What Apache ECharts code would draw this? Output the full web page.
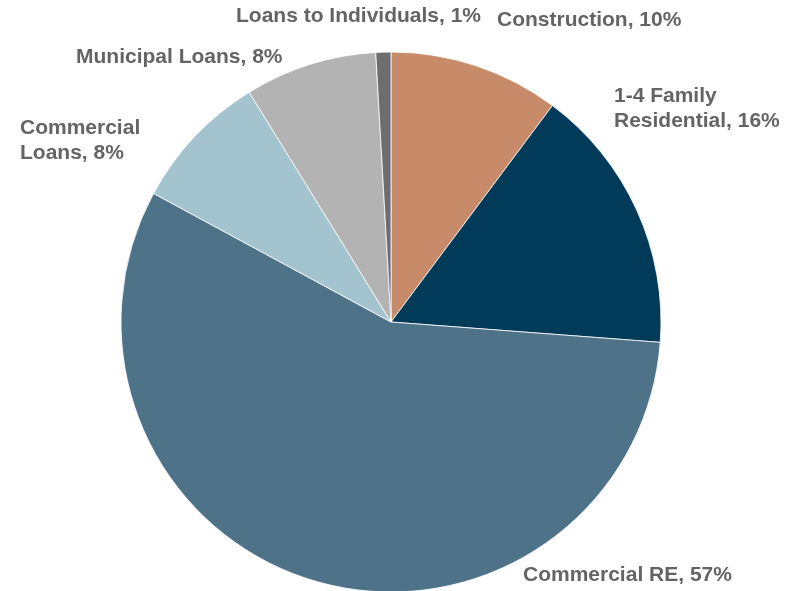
<!DOCTYPE html>
<html>
<head>
<meta charset="utf-8">
<script src="https://cdn.jsdelivr.net/npm/echarts@6/dist/echarts.min.js"></script>
<style>
  html, body { margin: 0; padding: 0; background: #fff; }
  #chart { width: 794px; height: 591px; }
</style>
</head>
<body>
<div id="chart"></div>
<script>
const categories = ['Construction', '1-4 Family\nResidential', 'Commercial RE', 'Commercial\nLoans', 'Municipal Loans', 'Loans to Individuals']
const shares = [10.2, 16.0, 56.7, 8.3, 7.9, 0.9]
const sliceColors = ['#c78b69', '#023a5a', '#4e7389', '#a3c3ce', '#b3b3b3', '#6e6e6e']

// where each label sits (left edge, vertical centre)
const labelSpots = [
  [497, 20], [614, 109], [523, 575], [20, 141], [76, 57], [236, 16]
]

const chart = echarts.init(document.getElementById('chart'))

chart.setOption({
  animation: false,
  series: [
    {
      type: 'pie',
      center: [391, 322],
      radius: 270,
      startAngle: 90,
      clockwise: true,
      percentPrecision: 0,
      data: categories.map((name, i) => ({
        name,
        value: shares[i],
        itemStyle: { color: sliceColors[i] }
      })),
      itemStyle: {
        borderColor: '#fff',
        borderWidth: 0.8
      },
      label: {
        show: true,
        position: 'outside',
        formatter: '{b}, {d}%',
        color: '#646464',
        fontFamily: 'Liberation Sans, Arial, sans-serif',
        fontWeight: 'bold',
        fontSize: 21,
        lineHeight: 25,
        align: 'left',
        overflow: 'none'
      },
      labelLine: { show: false },
      labelLayout: params => ({
        x: labelSpots[params.dataIndex][0],
        y: labelSpots[params.dataIndex][1],
        align: 'left',
        verticalAlign: 'middle'
      }),
      emphasis: { disabled: true }
    }
  ]
})

window.addEventListener('resize', () => chart.resize())
</script>
</body>
</html>
